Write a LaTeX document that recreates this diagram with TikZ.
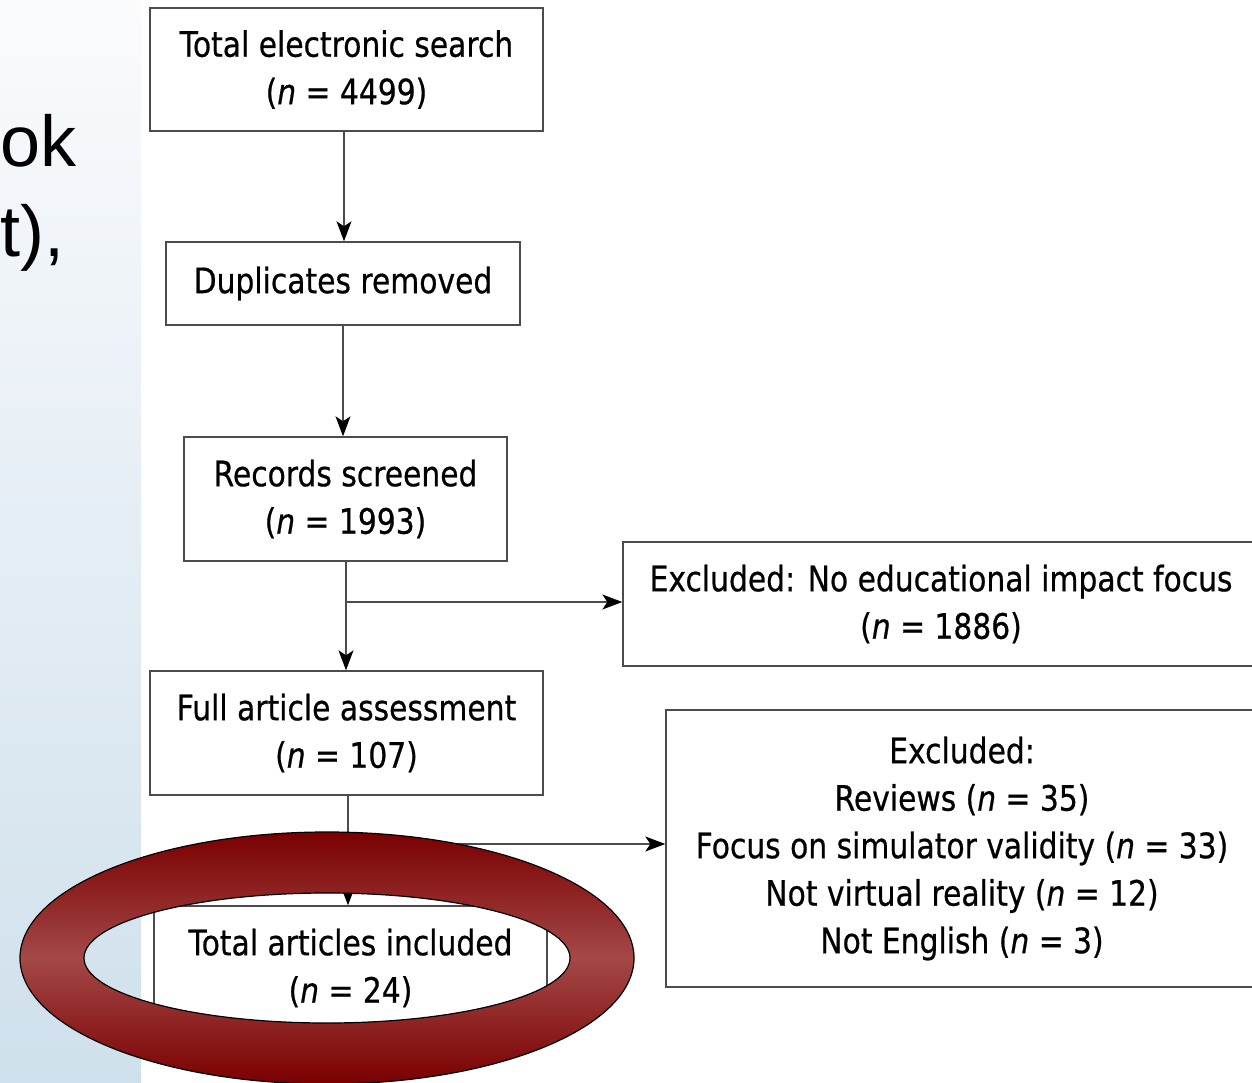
\documentclass[tikz,border=0pt]{standalone}
\usepackage{fontspec}
\setmainfont{DejaVu Sans}[FakeStretch=0.85,FakeBold=0.6]
\newfontfamily\arialfont{Liberation Sans}
\usetikzlibrary{arrows.meta}
\definecolor{stripbot}{RGB}{207,224,236}
\definecolor{striptop}{RGB}{250,251,253}
\definecolor{ringdark}{RGB}{122,0,0}
\definecolor{ringmid}{RGB}{164,72,72}
\tikzset{
  box/.style={draw=black!70, line width=1.4pt, fill=white, align=center,
    inner sep=0pt, font=\fontsize{35}{47.5}\selectfont},
  arr/.style={draw=black!70, line width=1.3pt, -{Stealth[length=20pt,width=15pt,inset=5pt,color=black]}},
  side/.style={font=\arialfont\fontsize{72}{90}\selectfont, inner sep=0pt, anchor=base west}
}
\begin{document}
\begin{tikzpicture}[x=1pt,y=-1pt]
\useasboundingbox (0,0) rectangle (1252,1083);
\clip (0,0) rectangle (1252,1083);
\fill[white] (0,0) rectangle (1252,1083);
\shade[top color=striptop, bottom color=stripbot] (0,0) rectangle (141,1083);
\node[side] (s1) at (0,167) {ok};
\node[side] (s2) at (0,257) {t),};

\node[box, minimum width=393pt, minimum height=123pt] (b1) at (346.5,69.5) {Total electronic search\\(\textit{n} = 4499)};
\node[box, minimum width=354pt, minimum height=83pt] (b2) at (343,283.5) {Duplicates removed};
\node[box, minimum width=323pt, minimum height=124pt] (b3) at (345.5,499) {Records screened\\(\textit{n} = 1993)};
\node[box, minimum width=636pt, minimum height=124pt] (b4) at (941,604) {Excluded: No educational impact focus\\(\textit{n} = 1886)};
\node[box, minimum width=393pt, minimum height=124pt] (b5) at (346.5,733) {Full article assessment\\(\textit{n} = 107)};
\node[box, minimum width=592pt, minimum height=277pt] (b6) at (962,848.5) {Excluded:\\Reviews (\textit{n} = 35)\\Focus on simulator validity (\textit{n} = 33)\\Not virtual reality (\textit{n} = 12)\\Not English (\textit{n} = 3)};
\node[box, minimum width=393pt, minimum height=124pt] (b7) at (350.5,968) {Total articles included\\(\textit{n} = 24)};

\coordinate (t1) at ([xshift=-2.5pt]b1.south);
\draw[arr] (t1) -- (t1 |- b2.north);
\draw[arr] (b2.south) -- (b2.south |- b3.north);
\coordinate (t3) at ([xshift=0.5pt]b3.south);
\draw[arr] (t3) -- (t3 |- b5.north);
\coordinate (j1) at ([yshift=2pt]t3 |- b4.west);
\draw[arr] (j1) -- (j1 -| b4.west);
\coordinate (t5) at ([xshift=1.5pt]b5.south);
\draw[arr] (t5) -- (t5 |- b7.north);
\coordinate (j2) at ([yshift=4.5pt]t5 |- b6.west);
\draw[arr] (j2) -- (j2 -| b6.west);

\shade[even odd rule, top color=ringdark, bottom color=ringdark, middle color=ringmid]
  (327,958) ellipse [x radius=307, y radius=126]
  (327,958) ellipse [x radius=243, y radius=65];
\draw[black, line width=1.2pt] (327,958) ellipse [x radius=307, y radius=126];
\draw[black, line width=1.2pt] (327,958) ellipse [x radius=243, y radius=65];
\end{tikzpicture}
\end{document}
